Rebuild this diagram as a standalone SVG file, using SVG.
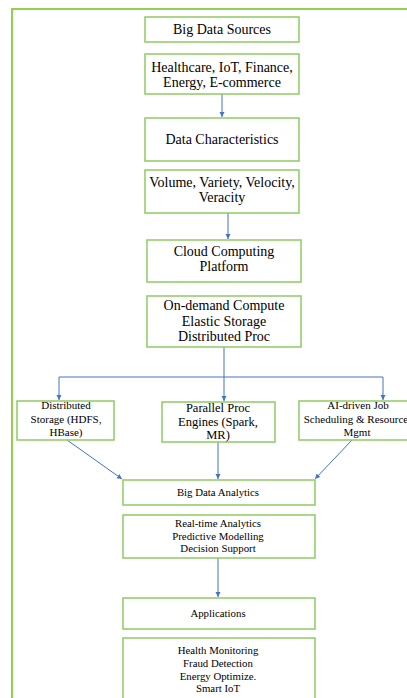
<svg xmlns="http://www.w3.org/2000/svg" width="407" height="698" viewBox="0 0 407 698">
<defs>
<style>
.box{fill:#fff;stroke:#8fca62;stroke-width:1.5}
.frame{fill:none;stroke:#92d050;stroke-width:2}
text{font-family:"Liberation Serif","Times New Roman",serif;fill:#000;text-anchor:middle}
.t13{font-size:14px}
.t12{font-size:12.5px}
.t11{font-size:11px}
.t10{font-size:10.8px}
.c{fill:none;stroke:#4472c4;stroke-width:1}
</style>
<marker id="ah" markerWidth="6" markerHeight="6" refX="5" refY="3" orient="auto" markerUnits="userSpaceOnUse">
<path d="M0,0.5 L5,3 L0,5.5 Z" fill="#4472c4"/>
</marker>
</defs>
<rect class="frame" x="12" y="9" width="410" height="710"/>
<g id="connectors">
<line class="c" x1="222" y1="94" x2="222" y2="117" marker-end="url(#ah)"/>
<line class="c" x1="228" y1="213" x2="228" y2="239" marker-end="url(#ah)"/>
<polyline class="c" points="224,347 224,377"/>
<line class="c" x1="59" y1="377" x2="383" y2="377"/>
<line class="c" x1="59" y1="377" x2="59" y2="400" marker-end="url(#ah)"/>
<line class="c" x1="224" y1="377" x2="224" y2="401" marker-end="url(#ah)"/>
<line class="c" x1="383" y1="377" x2="383" y2="400" marker-end="url(#ah)"/>
<line class="c" x1="67" y1="440" x2="122" y2="479" marker-end="url(#ah)"/>
<line class="c" x1="218" y1="442" x2="218" y2="479" marker-end="url(#ah)"/>
<line class="c" x1="352" y1="440" x2="315" y2="479" marker-end="url(#ah)"/>
<line class="c" x1="218" y1="558" x2="218" y2="597" marker-end="url(#ah)"/>
</g>
<g id="n1"><rect class="box" x="145" y="17" width="154" height="25"/><text class="t13" x="222" y="34">Big Data Sources</text></g>
<g id="n2"><rect class="box" x="145" y="54" width="154" height="40"/><text class="t13" x="222" y="71.5">Healthcare, IoT, Finance,</text><text class="t13" x="222" y="86.5">Energy, E-commerce</text></g>
<g id="n3"><rect class="box" x="145" y="118" width="154" height="43"/><text class="t13" x="222" y="144">Data Characteristics</text></g>
<g id="n4"><rect class="box" x="145" y="170" width="154" height="43"/><text class="t13" x="222" y="187">Volume, Variety, Velocity,</text><text class="t13" x="222" y="202">Veracity</text></g>
<g id="n5"><rect class="box" x="147" y="240" width="154" height="42"/><text class="t13" x="224" y="256">Cloud Computing</text><text class="t13" x="224" y="271">Platform</text></g>
<g id="n6"><rect class="box" x="147" y="296" width="154" height="51"/><text class="t13" x="224" y="310">On-demand Compute</text><text class="t13" x="224" y="326">Elastic Storage</text><text class="t13" x="224" y="341">Distributed Proc</text></g>
<g id="n7"><rect class="box" x="17" y="401" width="97" height="39"/><text class="t11" x="66" y="409">Distributed</text><text class="t11" x="66" y="423">Storage (HDFS,</text><text class="t11" x="66" y="436">HBase)</text></g>
<g id="n8"><rect class="box" x="162" y="402" width="113" height="40"/><text class="t12" x="218" y="412">Parallel Proc</text><text class="t12" x="218" y="425.5">Engines (Spark,</text><text class="t12" x="218" y="439">MR)</text></g>
<g id="n9"><rect class="box" x="299" y="401" width="120" height="39"/><text class="t11" x="358" y="409">AI-driven Job</text><text class="t11" x="356" y="423">Scheduling &amp; Resource</text><text class="t11" x="357" y="436">Mgmt</text></g>
<g id="n10"><rect class="box" x="123" y="480" width="192" height="25"/><text class="t10" x="218" y="496">Big Data Analytics</text></g>
<g id="n11"><rect class="box" x="123" y="515" width="192" height="43"/><text class="t10" x="218" y="527">Real-time Analytics</text><text class="t10" x="218" y="539.5">Predictive Modelling</text><text class="t10" x="218" y="552">Decision Support</text></g>
<g id="n12"><rect class="box" x="123" y="598" width="192" height="31"/><text class="t10" x="218" y="617">Applications</text></g>
<g id="n13"><rect class="box" x="123" y="638" width="192" height="80"/><text class="t10" x="218" y="654">Health Monitoring</text><text class="t10" x="218" y="667">Fraud Detection</text><text class="t10" x="218" y="680">Energy Optimize.</text><text class="t10" x="218" y="692">Smart IoT</text></g>
</svg>
